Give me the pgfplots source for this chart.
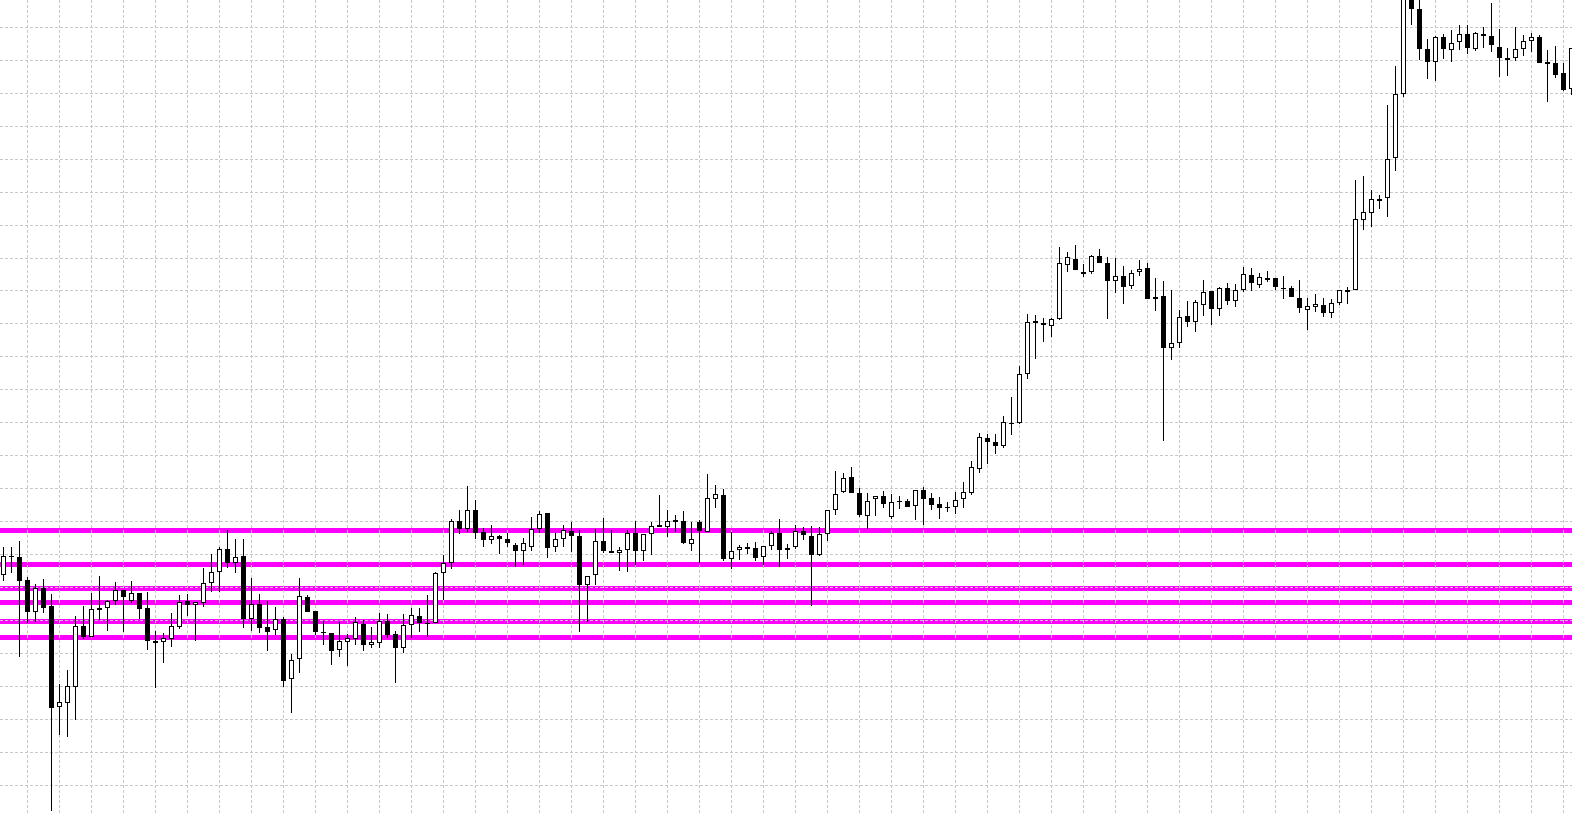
\documentclass[border=0pt]{standalone}
\usepackage{pgfplots}
\usepackage{pgfplotstable}
\pgfplotsset{compat=1.18}
\definecolor{mag}{RGB}{255,0,255}
\definecolor{gridgray}{RGB}{200,200,200}

% candles in screen units: i = bar index, o h l c = pixel rows (0 = top)
\pgfplotstableread{
i o h l c
0 575.3 547.3 580.7 556
1 556 547.3 573.3 557.3
2 557.3 541.3 656.7 580.7
3 580 577.3 622.7 611.7
4 612.3 584 621.7 588.3
5 588.3 579.3 612.7 607.7
6 606 594 810.7 707.7
7 707.3 684 735 702.3
8 702.7 670 736.7 686
9 686.7 616 720 626
10 626 606 639.3 636.7
11 636.7 592.7 636.7 609.3
12 608 576 620 609.7
13 608.3 600 630.7 601.3
14 601.3 582 604.7 590
15 590 590 631.7 597.3
16 601.3 581.3 603.3 593.3
17 593.3 593.3 619.3 608.7
18 608 592 650 640.7
19 641.3 631.3 687.7 643.3
20 642.3 633.3 662.7 638
21 639.3 613.3 646.7 626
22 626.7 594.7 628.7 602
23 601.3 594 616 605.3
24 605.3 602 641.3 602
25 603.3 568 607.3 583.3
26 583.3 554 591.7 572.3
27 572.3 546.7 591.7 549.3
28 549.3 530 567.7 563.3
29 563.3 539 572.7 556.7
30 556 539.3 627.7 619.3
31 619.3 578 630.7 604.3
32 604.3 594 633.3 627.7
33 627.3 601.3 650.7 631.7
34 630.3 607.3 635 618.7
35 619.3 617.3 686.7 680.7
36 679.3 654 712.7 660.3
37 659.3 578 672.7 596.3
38 597.3 595.3 611.7 611.7
39 611 611 635.3 631.7
40 632 621 644.7 633.3
41 633.3 633.3 664.7 650.7
42 649.7 622.3 657.3 641.3
43 642.3 634.3 665.7 638.3
44 639.3 617.3 645.3 622.3
45 623.7 620 650.7 645.3
46 645 627 647.7 642
47 643.3 613.3 647.7 621.3
48 621.3 614 638.3 634.7
49 634.3 631.3 682.7 647.7
50 647.7 614 653.3 625.3
51 625.3 608 637.7 615.3
52 616.3 608 631.7 623.3
53 622.7 595.3 636.7 624
54 622.7 572 623.3 573.3
55 573.3 554.7 600 563.3
56 563.3 519.3 568.7 521.3
57 521.3 510 533.7 528.7
58 528.7 486 532 510.3
59 510.3 500 538.7 532.7
60 532.3 528 546.7 540.3
61 540.3 525.3 544.3 536.3
62 536.3 535.3 554 539.3
63 539.3 533.3 546.7 543.3
64 545.3 543.3 566.7 551.3
65 551.3 538 564.7 543.3
66 546.7 517.3 551.3 529.3
67 529.3 511.3 533.3 514.3
68 513.3 513.3 558 547.7
69 546.7 532.7 552 539.3
70 538.7 525.3 547.3 530.3
71 531.3 522 552 536.3
72 536.3 530.3 631.7 584.7
73 585.3 576.3 621.7 576.3
74 575.3 529.3 585.3 541.3
75 541.3 518.3 552.7 551.3
76 551.3 530.3 552.7 552.6
77 552.8 547.3 571.3 550
78 550.3 530.3 572.3 533.3
79 533.3 521.3 564.7 551.3
80 551.3 534.3 561.3 534.3
81 534.3 522.3 555.3 526.3
82 525.3 495.3 526.7 526.7
83 527.3 510.3 536.7 521.3
84 520.3 515.3 532 521.7
85 521.3 511.3 543.7 542.7
86 544.3 522.3 550.7 539.3
87 522.3 520.3 563.3 531.3
88 532.3 474 532.3 498.3
89 499.3 485.3 508.3 494.3
90 495.3 489.3 561.3 558.7
91 558.7 532.3 569.3 551.3
92 550.3 545.3 560.3 547.3
93 547.3 543.3 554 548.6
94 548.3 542.3 561.3 558.3
95 557.3 546.3 565.3 546.3
96 546.3 531.3 550.3 533.3
97 533.3 519.3 566.7 550.3
98 548.3 544.3 559.3 549.6
99 547.3 525.3 549 531.3
100 531.3 527.3 540.3 535.3
101 536.3 526.3 605.7 555.3
102 555.3 527.3 556.3 534.3
103 534.3 510.3 541.3 510.3
104 510.3 471.3 515.3 494.3
105 492 473.3 493.3 478.3
106 477.3 467.3 493.3 493.3
107 493.3 488.3 516.7 515
108 515.7 492.7 529 501.3
109 499.3 496.3 516 496.3
110 496.3 491.3 507.7 504
111 516.7 494.3 519.3 502.3
112 501 496.3 508.7 502.3
113 501.3 499.3 506.7 506.7
114 505.7 490.3 520.3 490.3
115 490.3 487.3 525.3 499.3
116 498.3 493.3 510.3 505
117 504.3 497.3 518.7 507.7
118 506.7 502.3 511.7 508
119 506.7 492.3 513.7 500.3
120 499.3 482.3 507.7 492.3
121 492.7 461.3 494.7 467.3
122 469.3 433.3 472.7 437.3
123 438.3 434 464.3 442.3
124 442.3 434.3 454 445.7
125 445.7 416 447.7 422.3
126 423 396.7 434.7 424.3
127 423.3 366 424 374.3
128 374.3 314.3 378.7 322.3
129 321 315.3 358.7 323.3
130 323.3 318 342.3 325
131 326.3 318 336.7 319.3
132 319.3 247 320 263.3
133 265.3 252 272.3 257.3
134 259.3 245 270.3 270.3
135 272 264.3 276.7 273.7
136 272 255.3 273.7 256
137 256 249 263.3 263.3
138 263.3 257.3 318.7 280.7
139 281.3 258.3 292.7 276.3
140 276.3 265.7 303.7 287.3
141 286.3 270.3 289.3 273.3
142 272.3 260.3 275.7 269.3
143 268.3 263.3 299.3 298.7
144 297.3 278.3 310.7 298.6
145 296.3 281.3 440.7 348.3
146 348.3 290 359.7 343.3
147 343.3 310.3 348.3 317.3
148 316.3 301 326.7 321.7
149 322.3 300.3 332 302
150 305.3 280.3 315.7 292.3
151 291.3 291.3 325 309.3
152 309.3 287.3 315.7 288.3
153 288.3 283.3 305.3 301.3
154 301.3 284.3 306.7 290.3
155 290.3 267.3 292.3 274.3
156 275.3 268.3 291.3 283.3
157 284.7 273.3 288.3 277.3
158 278.3 271.3 282.3 279.7
159 278.3 278.3 290.3 287.3
160 288 276.3 299.3 289.3
161 288.3 286.3 297.3 297.3
162 298.3 280.3 313.3 308.3
163 310.3 298.3 330.3 306.3
164 306.8 294.3 312.3 304
165 305.3 298.3 317.3 313.3
166 313.3 299.3 318.3 303.3
167 303.3 290.3 305.3 290.3
168 290.3 287.3 304.3 291.7
169 290.3 180.3 290.3 219.3
170 220.3 176.3 230.3 212.3
171 213.3 190.3 227.3 199.3
172 199.3 195.3 208.7 200.6
173 198.3 105.3 216.7 159.3
174 158.3 66 170.7 94.3
175 94.3 -20 96.7 -10
176 -5 -10 25.3 9.3
177 9.3 -2 60.3 49.3
178 49.3 39.3 78.7 62.3
179 62.3 36 80.7 37.3
180 37.3 34.3 59.3 49.3
181 50.3 30 62.3 43.3
182 42.3 25 50.3 34.3
183 34.3 25 54.3 48.3
184 49.3 32 51.3 33.3
185 34.3 27.3 48.3 36.3
186 36.3 3.3 52.3 45.3
187 47.3 29.3 77.3 58.3
188 58.3 48.3 76.3 59.7
189 58.3 27.3 61.3 49.3
190 49.3 35.3 56.3 41.3
191 41.3 33.3 52.3 37.3
192 37.3 35.3 63.3 63.3
193 62.3 50.3 102.3 63.7
194 63.3 46.3 78.3 75.3
195 73.3 63.3 90.7 89.7
196 89.3 48 94.7 48.3
}\candles

\begin{document}
\begin{tikzpicture}
\begin{axis}[
    set layers,
    scale only axis,
    width=1572bp, height=813bp,
    xmin=-0.4125, xmax=196.0875,
    ymin=0, ymax=813, y dir=reverse,
    axis line style={draw=none},
    tick style={draw=none},
    major tick length=0pt,
    xtick={3,7,...,195},
    ytick={27.3,60.26,...,786},
    xticklabels={}, yticklabels={},
    grid=major,
    major grid style={draw=gridgray, line width=1bp, dash pattern=on 3bp off 2bp},
]
% support / resistance levels (under the grid)
\addplot[draw=mag, line width=5bp, on layer=axis background] coordinates {(-1,530.4) (197,530.4)};
\addplot[draw=mag, line width=5bp, on layer=axis background] coordinates {(-1,564.3) (197,564.3)};
\addplot[draw=mag, line width=5bp, on layer=axis background] coordinates {(-1,588.2) (197,588.2)};
\addplot[draw=mag, line width=5bp, on layer=axis background] coordinates {(-1,602.5) (197,602.5)};
\addplot[draw=mag, line width=5bp, on layer=axis background] coordinates {(-1,621) (197,621)};
\addplot[draw=mag, line width=5bp, on layer=axis background] coordinates {(-1,637.5) (197,637.5)};

% wicks
\addplot[black, line width=1bp, quiver={u=0, v=\thisrow{l}-\thisrow{h}}]
    table[x=i, y=h] {\candles};
% bodies
\addplot[black, line width=5bp, quiver={u=0, v=\thisrow{c}-\thisrow{o}}]
    table[x=i, y=o] {\candles};
% hollow inside of rising candles
\addplot[white, line width=3bp, quiver={u=0, v=\thisrow{c}-\thisrow{o}+2},
    restrict expr to domain={\thisrow{o}-\thisrow{c}}{2.5:2000}]
    table[x=i, y expr=\thisrow{o}-1] {\candles};
\end{axis}
\pgfresetboundingbox
\path[use as bounding box] (current axis.south west) rectangle (current axis.north east);
\end{tikzpicture}
\end{document}
